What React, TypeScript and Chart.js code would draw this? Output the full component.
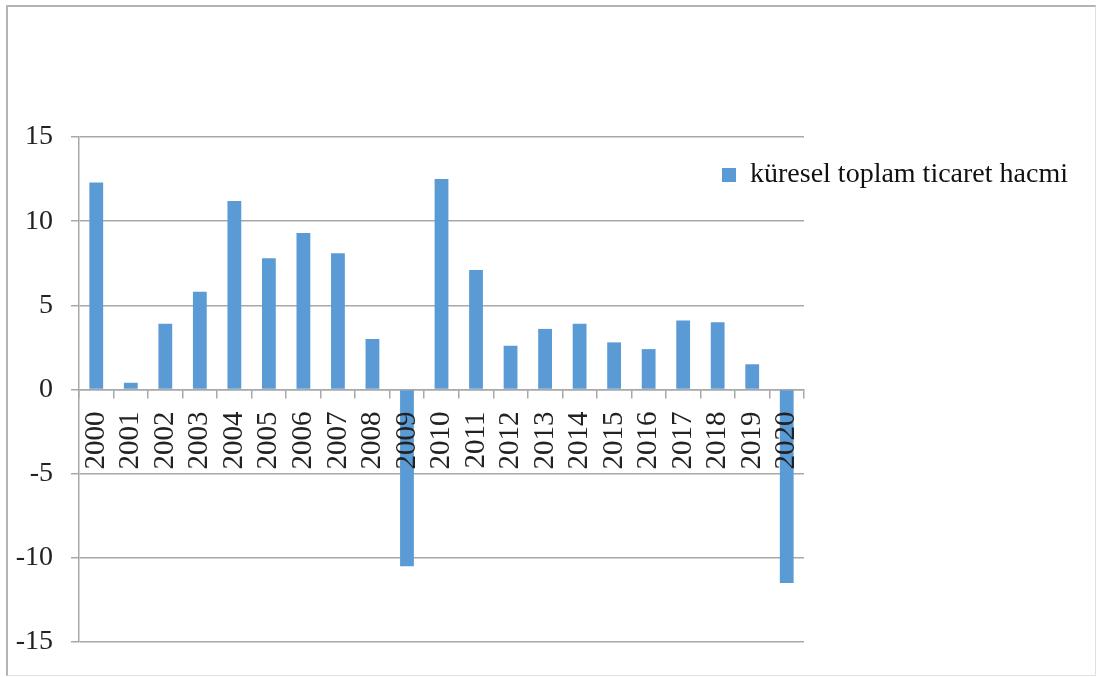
import React, { useEffect, useRef } from "react";
import { Chart, registerables } from "chart.js";

Chart.register(...registerables);

const years = ["2000", "2001", "2002", "2003", "2004", "2005", "2006", "2007", "2008", "2009", "2010", "2011", "2012", "2013", "2014", "2015", "2016", "2017", "2018", "2019", "2020"];
const tradeVolume = [12.3, 0.4, 3.9, 5.8, 11.2, 7.8, 9.3, 8.1, 3.0, -10.5, 12.5, 7.1, 2.6, 3.6, 3.9, 2.8, 2.4, 4.1, 4.0, 1.5, -11.5];
const seriesLabel = "küresel toplam ticaret hacmi";
const yMin = -15;
const yMax = 15;
const yStep = 5;

const W = 1097;
const H = 677;
const LEGEND_LEFT = 712;
const LEGEND_TOP = 151;
const LEGEND_WIDTH = 385;

const legendMover = {
  id: "legendMover",
  afterLayout(chart: any) {
    const lg = chart.legend;
    if (!lg) return;
    const h = lg.height;
    lg.width = LEGEND_WIDTH;
    lg.left = LEGEND_LEFT;
    lg.right = LEGEND_LEFT + LEGEND_WIDTH;
    lg.top = LEGEND_TOP;
    lg.bottom = LEGEND_TOP + h;
  },
};

export default function App() {
  const ref = useRef<HTMLCanvasElement>(null);

  useEffect(() => {
    if (!ref.current) return;
    const gridColor = "#a8a8a8";
    const chart = new Chart(ref.current, {
      type: "bar",
      data: {
        labels: years,
        datasets: [
          {
            label: seriesLabel,
            data: tradeVolume,
            backgroundColor: "#5b9bd5",
            borderWidth: 0,
            barPercentage: 0.4,
            categoryPercentage: 1.0,
          },
        ],
      },
      plugins: [legendMover],
      options: {
        responsive: false,
        animation: false,
        devicePixelRatio: 1,
        layout: { padding: { top: 137, bottom: 35, left: 0, right: 93 } },
        font: { family: "'Liberation Serif', 'Times New Roman', serif" },
        plugins: {
          tooltip: { enabled: false },
          legend: {
            display: true,
            position: "right",
            align: "start",
            maxWidth: 200,
            labels: {
              boxWidth: 14,
              boxHeight: 14,
              color: "#111",
              padding: 10,
              font: { family: "'Liberation Serif', 'Times New Roman', serif", size: 28 },
            },
          },
        },
        scales: {
          x: {
            position: { y: 0 } as any,
            grid: {
              display: true,
              drawOnChartArea: false,
              drawTicks: true,
              tickLength: 8,
              color: gridColor,
              lineWidth: 1.5,
              offset: true,
            },
            border: { display: true, color: gridColor, width: 1.5 },
            ticks: {
              z: 1,
              autoSkip: false,
              maxRotation: 90,
              minRotation: 90,
              padding: 14,
              color: "#222",
              font: { family: "'Liberation Serif', 'Times New Roman', serif", size: 29 },
            },
          },
          y: {
            min: yMin,
            max: yMax,
            grid: { color: gridColor, lineWidth: 1.5, tickLength: 8 },
            border: { display: true, color: gridColor, width: 1.5 },
            ticks: {
              stepSize: yStep,
              padding: 18,
              color: "#222",
              font: { family: "'Liberation Serif', 'Times New Roman', serif", size: 28 },
            },
            afterFit: (s: any) => {
              s.width = 79;
            },
          },
        },
      },
    });
    return () => chart.destroy();
  }, []);

  return (
    <div style={{ position: "absolute", left: 0, top: 0, width: W, height: H, background: "#fff" }}>
      <div
        style={{
          position: "absolute",
          left: 6,
          top: 5,
          width: W - 7,
          height: H - 6,
          boxSizing: "border-box",
          borderTop: "2px solid #b4b4b4",
          borderLeft: "2px solid #b4b4b4",
          borderRight: "1px solid #e0e0e0",
          borderBottom: "1px solid #e0e0e0",
        }}
      />
      <canvas ref={ref} width={W} height={H} style={{ position: "absolute", left: 0, top: 0 }} />
    </div>
  );
}
